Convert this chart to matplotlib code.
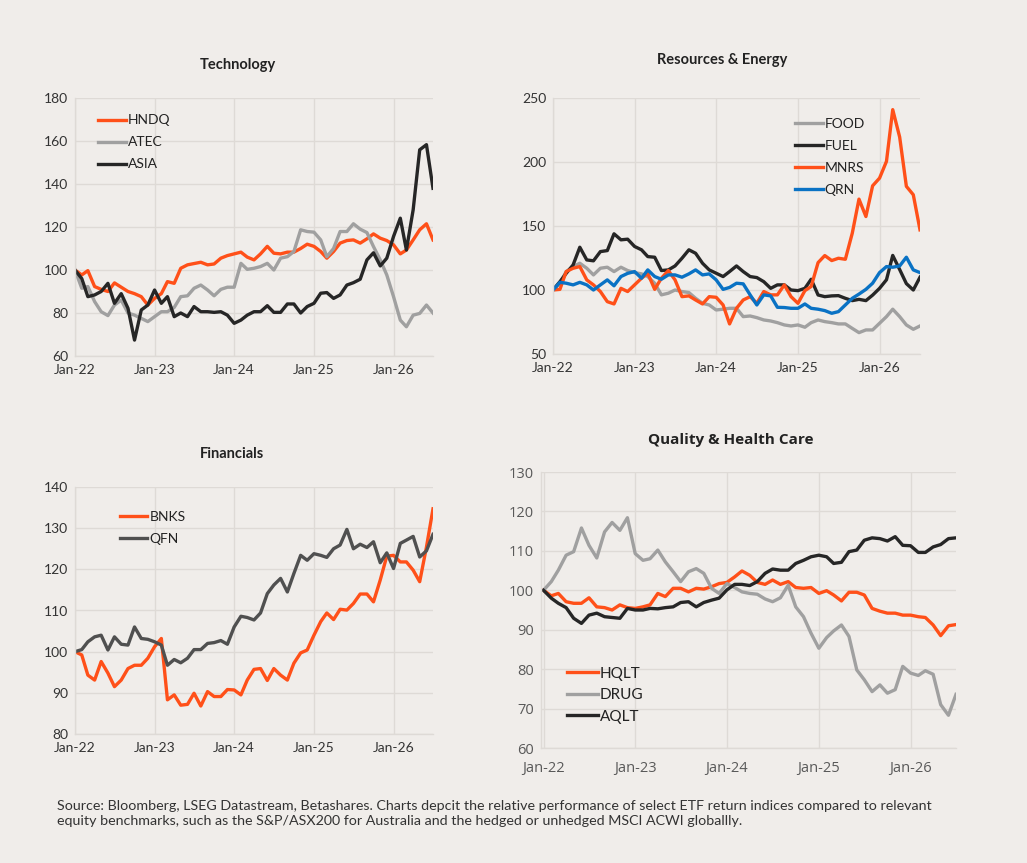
import pandas as pd
import matplotlib.pyplot as plt
import matplotlib.dates as mdates

plt.rcParams["font.family"] = ["Lato", "DejaVu Sans"]

# Monthly index levels, Jan-22 = 100
dates = pd.date_range("2022-01-01", periods=55, freq="MS")

hndq = [100, 97.7, 99.7, 92.3, 91, 90, 94, 92, 90, 89, 87.6, 83.7, 86.8, 89, 94.6, 93.8,
        100.8, 102.4, 103, 103.6, 102.4, 102.8, 105.5, 106.7, 107.5, 108.3, 106, 104.7,
        107.5, 111, 107.8, 107.5, 108.3, 108.3, 110, 112, 111, 108.6, 105.5, 108.6, 112.5,
        113.7, 114, 112.5, 114.5, 116.8, 114.8, 113.7, 111.7, 107.5, 109.3, 114, 118.7,
        121.5, 114]
atec = [100, 91.5, 92.3, 85.3, 80.6, 78.8, 83.7, 86, 80, 79, 77.5, 76, 78.3, 80.6, 80.6,
        82.6, 87.6, 88, 91.5, 93, 90.7, 88, 91, 92, 92, 103.1, 100.3, 100.8, 101.6, 103.1,
        100, 105.5, 106.2, 108.6, 118.7, 117.9, 117.6, 114, 106.2, 110, 117.9, 117.9, 121.5,
        119, 117.4, 110.9, 104.7, 97.7, 87.6, 76.7, 73.6, 79, 79.8, 83.7, 80]
asia = [100, 96, 87.6, 88.4, 90, 93.8, 84.5, 89, 82.2, 67.4, 81.4, 83.7, 90.7, 84.5, 87.6,
        78.3, 80, 78.3, 83, 80.6, 80.6, 80.3, 80.6, 79, 75.2, 76.7, 79, 80.6, 80.6, 83.4,
        80.3, 80.3, 84.2, 84.2, 80, 83, 84.5, 89.2, 89.5, 86.8, 88.4, 93, 94.1, 95.7, 104.7,
        108, 101.9, 105.5, 115.6, 124.1, 109.3, 128, 155.9, 158.3, 138]

food = [100, 105.3, 114.4, 118.3, 120.9, 117, 111.8, 117, 117.8, 114.4, 117.8, 115.2, 113.6,
        112.6, 110.5, 105.3, 96.2, 97.5, 100, 98.8, 98, 93.5, 89.6, 88.3, 84.4, 85, 85.7,
        85.7, 79.2, 79.7, 78.4, 76.6, 75.8, 74.5, 72.7, 71.9, 72.7, 70.9, 74.5, 76.6, 75.3,
        74.5, 73.5, 73.5, 70, 66.7, 68.8, 68.8, 74, 79.2, 85, 79.2, 72.7, 69.3, 71.9]
fuel = [100, 106.5, 113, 119.6, 133.4, 123.5, 122.8, 130, 130.8, 143.9, 139.2, 139.7, 134,
        131.4, 126.1, 125.6, 115.2, 115.7, 118.8, 124.8, 131.4, 128.7, 120.9, 115.7, 113.1,
        110.5, 114.4, 118.8, 114.4, 110.5, 109.7, 106.5, 101.3, 104, 104, 100, 99.5, 101.3,
        108.4, 96.1, 94.8, 95.4, 95.6, 93.5, 91.7, 92.7, 91.7, 96, 101.3, 108, 127, 116, 105,
        100, 110]
mnrs = [100, 100.5, 114.4, 117, 118.3, 107.9, 104, 98.8, 90.9, 89.1, 101.3, 98.8, 104, 109.2,
        113, 100.5, 109.2, 115.2, 107.9, 94.8, 95.4, 92.2, 89.1, 94.8, 94.3, 88.3, 73.5, 85.7,
        92.2, 94.8, 89.6, 98.8, 96.2, 96.2, 104, 94.8, 89.6, 99.5, 102.7, 121.4, 126.9, 123,
        124.8, 124, 144.4, 171, 157.4, 181.4, 187.4, 200.5, 240.9, 219.5, 181, 174.4, 147]
qrn = [100, 106, 105.3, 104, 106, 104, 100, 104, 107.9, 103.3, 110.5, 113, 114.4, 109.2,
       115.7, 110.5, 108.4, 111.8, 111.8, 110, 112.6, 115.7, 111.8, 112.6, 107.9, 100.5, 102,
       105.3, 104.8, 96.2, 88.3, 96.2, 95.4, 86.5, 86.3, 85.7, 85.7, 89.1, 85.7, 85, 83.9,
       81.8, 83.1, 88.3, 93.5, 96.8, 100.5, 105.3, 113.6, 118.3, 117.8, 118.8, 125.6, 115.7,
       113.6]

bnks = [100, 99.2, 94.3, 93.1, 97.6, 94.8, 91.5, 93.1, 95.9, 96.7, 96.7, 98.4, 101.2, 103.2,
        88.3, 89.5, 87, 87.2, 89.9, 86.8, 90.3, 89.1, 89.1, 90.8, 90.7, 89.5, 93.1, 95.7, 95.9,
        93, 95.9, 94.3, 93.1, 97.2, 99.7, 100.4, 104, 107.3, 109.4, 107.8, 110.3, 110.1, 111.7,
        114, 114, 112.1, 117.4, 123.2, 123.4, 121.8, 121.8, 119.8, 117, 125.4, 134.7]
qfn = [100, 100.5, 102.4, 103.6, 104, 100.4, 103.6, 101.8, 101.6, 106, 103.2, 103, 102.4,
       101.6, 96.7, 98.1, 97.3, 98.4, 100.5, 100.5, 102, 102.2, 102.7, 101.8, 106, 108.6,
       108.3, 107.7, 109.4, 114.1, 116.2, 117.8, 114.5, 119, 123.4, 122.2, 123.8, 123.4, 122.9,
       125, 125.9, 129.7, 125, 126.1, 125.3, 126.7, 121.6, 124, 120.2, 126.3, 127.1, 128, 123,
       124.5, 128.5]

hqlt = [100, 98.6, 99.2, 97.1, 96.7, 96.7, 98.1, 95.8, 95.6, 95, 96.3, 95.6, 95.4, 95.8, 96.3,
        99.2, 98.4, 100.5, 100.5, 99.6, 100.5, 100.3, 100.9, 101.7, 102, 103.4, 104.9, 103.8,
        102, 101.5, 102.6, 101.5, 102.2, 100.7, 100.5, 100.7, 99.2, 99.9, 98.8, 97.3, 99.5,
        99.5, 98.8, 95.4, 94.7, 94.2, 94.2, 93.7, 93.7, 93.3, 93.1, 91.2, 88.5, 91, 91.3]
drug = [100, 102.2, 105.1, 108.9, 109.8, 115.8, 111.4, 108.2, 114.8, 117.2, 115.2, 118.4,
        109.3, 107.6, 108, 110.2, 107.2, 104.7, 102.2, 104.7, 105.5, 104.3, 100.5, 99.2, 101.7,
        100.7, 99.6, 99.2, 99, 97.8, 97.1, 98.1, 101.3, 95.8, 93.3, 89.1, 85.3, 88, 89.7, 91.2,
        88.3, 79.8, 77.3, 74.3, 76, 73.9, 74.8, 80.7, 79, 78.4, 79.6, 78.7, 71, 68.3, 73.6]
aqlt = [100, 98, 96.7, 95.6, 92.9, 91.6, 93.7, 94.2, 93.3, 93.1, 92.9, 95.4, 95, 95, 95.4,
        95.3, 95.6, 95.8, 96.9, 97.1, 95.8, 96.9, 97.5, 98, 100.1, 101.5, 101.5, 101.2, 102.2,
        104.3, 105.4, 105.1, 105.1, 106.8, 107.6, 108.5, 108.9, 108.5, 106.8, 107.1, 109.8,
        110.2, 112.7, 113.3, 113.1, 112.5, 113.6, 111.4, 111.3, 109.6, 109.6, 111, 111.6,
        113.1, 113.3]

ORANGE = "#FF5019"
GREY = "#A0A0A0"
BLACK = "#262626"
DARKGREY = "#505050"
BLUE = "#0A72C4"
BG = "#F0EDEA"
GRID = "#DEDAD6"

W, H = 1027, 863
fig = plt.figure(figsize=(W / 100, H / 100), dpi=100, facecolor=BG)


def make_ax(x0, y0, x1, y1):
    return fig.add_axes([x0 / W, 1 - y1 / H, (x1 - x0) / W, (y1 - y0) / H])


def style(ax, ylim, step, title, title_xy, tick_size=10, tick_color="#333333",
          tick_font=None, left_pad=0, xpad=6, title_size=10.5):
    ax.set_facecolor(BG)
    ax.set_ylim(*ylim)
    ax.set_yticks(range(ylim[0], ylim[1] + 1, step))
    ax.set_xlim(dates[0] - pd.Timedelta(days=left_pad), dates[-1])
    ax.xaxis.set_major_locator(mdates.YearLocator(month=1))
    ax.xaxis.set_major_formatter(mdates.DateFormatter("%b-%y"))
    ax.grid(True, color=GRID, lw=1)
    ax.set_axisbelow(True)
    for s in ["top", "right"]:
        ax.spines[s].set_visible(False)
    for s in ["left", "bottom"]:
        ax.spines[s].set_color(GRID)
        ax.spines[s].set_linewidth(1)
    ax.tick_params(length=0, labelsize=tick_size, colors=tick_color)
    ax.tick_params(axis="x", pad=xpad)
    ax.tick_params(axis="y", pad=5)
    if tick_font:
        for lab in ax.get_xticklabels() + ax.get_yticklabels():
            lab.set_family(tick_font)
    fig.text(title_xy[0] / W, 1 - title_xy[1] / H, title, ha="center", va="center",
             fontsize=title_size, fontweight="bold", color="#222222",
             family=tick_font if tick_font else None)


def legend(ax, x, y, fs=10, spacing=0.72):
    ax.legend(loc="upper left", bbox_to_anchor=(x, y), frameon=False, fontsize=fs,
              handlelength=2.0, handletextpad=0.15, labelspacing=spacing,
              labelcolor="#222222")


lw = 2.4

# Technology
ax1 = make_ax(75, 98, 433, 356)
ax1.plot(dates, hndq, color=ORANGE, lw=lw, label="HNDQ")
ax1.plot(dates, atec, color=GREY, lw=lw, label="ATEC")
ax1.plot(dates, asia, color=BLACK, lw=lw, label="ASIA")
style(ax1, (60, 180), 20, "Technology", (238, 65))
legend(ax1, 0.03, 0.985)

# Resources & Energy
ax2 = make_ax(553, 98, 920, 354)
ax2.plot(dates, food, color=GREY, lw=lw, label="FOOD")
ax2.plot(dates, fuel, color=BLACK, lw=lw, label="FUEL")
ax2.plot(dates, mnrs, color=ORANGE, lw=lw, label="MNRS")
ax2.plot(dates, qrn, color=BLUE, lw=lw, label="QRN")
style(ax2, (50, 250), 50, "Resources & Energy", (722, 60))
legend(ax2, 0.625, 0.97)

# Financials
ax3 = make_ax(75, 487, 433, 734)
ax3.plot(dates, bnks, color=ORANGE, lw=lw, label="BNKS")
ax3.plot(dates, qfn, color=DARKGREY, lw=lw, label="QFN")
style(ax3, (80, 140), 10, "Financials", (232, 454))
legend(ax3, 0.09, 0.955)

# Quality & Health Care
ax4 = make_ax(541, 472, 956, 748)
ax4.plot(dates, hqlt, color=ORANGE, lw=lw, label="HQLT")
ax4.plot(dates, drug, color=GREY, lw=lw, label="DRUG")
ax4.plot(dates, aqlt, color=BLACK, lw=lw, label="AQLT")
style(ax4, (60, 130), 10, "Quality & Health Care", (731, 440), tick_size=10.5,
      tick_color="#595959", tick_font="Open Sans", left_pad=10, xpad=9, title_size=11)
legend(ax4, 0.03, 0.345, fs=11, spacing=0.5)

fig.text(57 / W, 1 - 813 / H,
         "Source: Bloomberg, LSEG Datastream, Betashares. Charts depcit the relative performance "
         "of select ETF return indices compared to relevant\nequity benchmarks, such as the "
         "S&P/ASX200 for Australia and the hedged or unhedged MSCI ACWI globallly.",
         ha="left", va="center", fontsize=10.3, color="#333333", linespacing=1.3)

fig.savefig("out.png", dpi=100, facecolor=BG)
